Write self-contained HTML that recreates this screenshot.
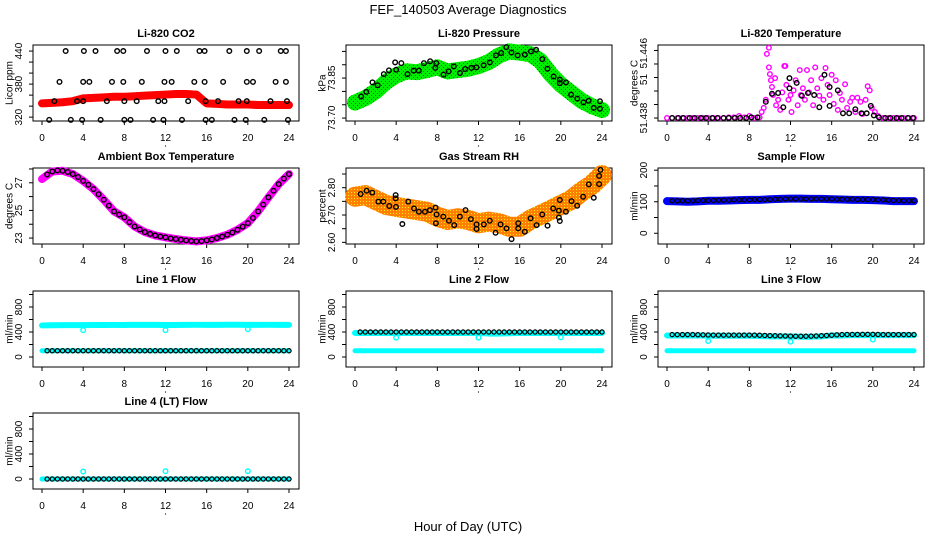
<!DOCTYPE html>
<html><head><meta charset="utf-8"><style>
html,body{margin:0;padding:0;background:#fff;}
svg{display:block;font-family:"Liberation Sans",sans-serif;}
</style></head><body>
<svg id="chart" width="936" height="540" viewBox="0 0 936 540" xmlns="http://www.w3.org/2000/svg">
<defs>
<pattern id="greenPat" width="4" height="4" patternUnits="userSpaceOnUse"><rect width="4" height="4" fill="#00ee00"/><rect x="1" y="1" width="1" height="1" fill="#006600"/><rect x="3" y="3" width="1" height="1" fill="#006600"/></pattern>
<pattern id="rhPat" width="3" height="3" patternUnits="userSpaceOnUse"><rect width="3" height="3" fill="#ff8000"/><rect width="1" height="1" fill="#ffee00"/></pattern>
</defs>
<text x="468" y="14" text-anchor="middle" font-size="13">FEF_140503  Average Diagnostics</text>
<text x="468" y="531" text-anchor="middle" font-size="13">Hour of Day (UTC)</text>
</svg>
<script>
// ---------- data ----------
const xTicks=[0,4,8,12,16,20,24];
const hourly=[0,1,2,3,4,5,6,7,8,9,10,11,12,13,14,15,16,17,18,19,20,21,22,23,24];
const halfHours=[0.5,1,1.5,2,2.5,3,3.5,4,4.5,5,5.5,6,6.5,7,7.5,8,8.5,9,9.5,10,10.5,11,11.5,12,12.5,13,13.5,14,14.5,15,15.5,16,16.5,17,17.5,18,18.5,19,19.5,20,20.5,21,21.5,22,22.5,23,23.5,24];

const co2Red=[345,346,347,349,354,355,356,357,357,358,359,360,361,362,362,361,345,344,343,343,343,342,342,342,342];
const co2DotHours=[2.3,4.07,5.2,7.3,7.9,10.2,12.0,13.1,15.3,15.8,18.2,19.9,21.1,23.2,23.7,
 1.7,4.0,4.6,6.8,7.9,9.7,11.9,12.6,14.8,15.8,17.6,19.9,20.5,22.7,23.7,
 1.2,3.4,4.0,6.3,8.0,9.2,11.3,11.9,14.2,15.9,17.1,19.1,19.9,22.2,23.8,
 0.7,2.8,3.9,5.7,8.0,8.6,10.8,11.8,13.6,15.9,16.5,18.7,19.8,21.6,23.9];
const co2DotVals=[440,440,440,440,440,440,440,440,440,440,440,440,440,440,440,
 384,384,384,384,384,384,384,384,384,384,384,384,384,384,384,
 349,349,349,349,349,349,349,349,349,349,349,349,349,349,349,
 315,315,315,315,315,315,315,315,315,315,315,315,315,315,315];

const pressBand=[73.758,73.775,73.80,73.835,73.86,73.875,73.872,73.88,73.89,73.875,73.88,73.885,73.895,73.91,73.935,73.95,73.945,73.94,73.915,73.865,73.825,73.795,73.765,73.745,73.73];
const pressDotHours=[0.6,1.1,1.7,2.2,2.8,3.3,3.9,4.0,4.5,5.1,5.7,6.2,6.7,7.3,7.8,7.9,8.6,9.1,9.6,10.2,10.7,11.3,11.8,12.5,13.1,13.7,14.2,14.7,15.2,15.8,16.5,17.1,17.6,18.2,18.7,19.3,19.9,19.9,20.5,21.0,21.6,22.2,22.7,23.2,23.8,23.8];
const pressDotVals=[73.781,73.798,73.834,73.823,73.865,73.879,73.909,73.881,73.906,73.865,73.878,73.878,73.906,73.913,73.888,73.906,73.863,73.875,73.894,73.869,73.884,73.888,73.89,73.898,73.909,73.935,73.944,73.966,73.946,73.935,73.938,73.95,73.956,73.921,73.885,73.856,73.844,73.831,73.834,73.788,73.773,73.759,73.765,73.738,73.763,73.735];

const tempMagHours=[0,0.5,1,1.5,2,2.5,3,3.5,4,4.5,5,5.5,6,6.5,7,7.5,8,8.5,9,
 9.2,9.4,9.6,9.7,9.9,9.9,10.0,10.1,10.2,10.3,10.5,10.6,10.8,11.0,11.2,11.4,11.5,11.6,11.8,12.0,12.1,12.3,12.5,12.7,12.9,13.0,13.2,13.4,13.6,13.8,14.0,14.2,14.4,14.6,14.8,15.0,15.2,15.4,15.6,15.8,16.0,16.2,16.4,16.6,16.8,17.0,17.3,17.5,17.8,18.0,18.3,18.5,18.8,19.0,19.3,19.5,19.7,19.9,20.2,20.5,21,21.5,22,22.5,23,23.5,24];
const tempMagVals=[51.4380,51.4380,51.4380,51.4380,51.4380,51.4380,51.4380,51.4380,51.4380,51.4380,51.4380,51.4380,51.4381,51.4381,51.4383,51.4381,51.4383,51.4380,51.4381,
 51.4389,51.4395,51.4407,51.4475,51.4484,51.4455,51.4445,51.4436,51.4426,51.4414,51.4439,51.4399,51.4407,51.4392,51.4418,51.4457,51.4457,51.4429,51.4407,51.4414,51.4389,51.4421,51.4436,51.4399,51.4451,51.4414,51.4424,51.4407,51.4451,51.4418,51.4436,51.4399,51.4455,51.4424,51.4413,51.4439,51.4407,51.4454,51.4429,51.4414,51.4444,51.4401,51.4436,51.4392,51.4417,51.4407,51.4430,51.4395,51.4404,51.4410,51.4389,51.4410,51.4404,51.4386,51.4407,51.4427,51.4421,51.4395,51.4389,51.4383,51.4380,51.4380,51.4380,51.4380,51.4380,51.4380,51.4380];
const tempDotHours=[0.5,1.1,1.6,2.2,2.7,3.3,3.8,4.4,4.9,5.5,6.0,6.6,7.1,7.7,8.2,8.8,9.6,10.2,10.8,11.3,11.9,11.9,12.6,13.1,13.7,14.3,14.8,15.3,15.8,15.8,16.6,17.1,17.7,18.3,18.9,19.4,19.8,20.1,20.6,21.2,21.7,22.3,22.8,23.4,23.9];
const tempDotVals=[51.4380,51.4380,51.4380,51.4380,51.4380,51.4380,51.4380,51.4380,51.4380,51.4380,51.4380,51.4380,51.4380,51.4380,51.4381,51.4381,51.4404,51.4416,51.4417,51.4396,51.4439,51.4424,51.4432,51.4413,51.4417,51.4414,51.4396,51.4444,51.4426,51.4398,51.4421,51.4387,51.4387,51.4393,51.4387,51.4387,51.4398,51.4384,51.4381,51.4380,51.4380,51.4380,51.4380,51.4380,51.4380];

const ambBand=[27.27,27.82,27.87,27.63,27.14,26.54,25.77,24.93,24.5,23.84,23.43,23.19,23.05,22.93,22.83,22.76,22.83,23.0,23.24,23.6,24.08,24.93,25.94,26.9,27.63];
const ambDots=[27.6,27.82,27.9,27.87,27.78,27.63,27.42,27.14,26.86,26.54,26.17,25.77,25.35,24.93,24.7,24.5,24.15,23.84,23.62,23.43,23.3,23.19,23.11,23.05,22.98,22.93,22.88,22.83,22.79,22.76,22.78,22.83,22.9,23.0,23.1,23.24,23.4,23.6,23.83,24.08,24.45,24.93,25.42,25.94,26.42,26.9,27.3,27.63];

const rhBand=[2.767,2.773,2.755,2.737,2.73,2.724,2.718,2.712,2.694,2.682,2.688,2.682,2.67,2.676,2.67,2.657,2.657,2.682,2.70,2.718,2.737,2.755,2.785,2.81,2.846];
const rhDotHours=[0.55,1.13,1.68,2.27,2.75,3.33,3.95,3.95,3.98,4.6,5.18,5.73,6.21,6.8,7.28,7.83,7.93,7.86,8.58,9.13,9.64,10.19,10.74,11.26,11.81,11.81,12.52,13.1,13.66,14.14,14.72,15.21,15.86,15.86,16.5,17.06,17.64,18.19,18.71,19.26,19.81,19.81,19.9,19.9,20.49,21.04,21.59,22.17,22.72,23.2,23.72,23.72,23.85];
const rhDotVals=[2.777,2.789,2.782,2.749,2.749,2.733,2.773,2.761,2.730,2.667,2.749,2.724,2.712,2.712,2.718,2.727,2.702,2.670,2.694,2.679,2.663,2.694,2.718,2.685,2.666,2.649,2.666,2.679,2.635,2.666,2.651,2.612,2.670,2.651,2.639,2.688,2.663,2.702,2.661,2.724,2.716,2.691,2.678,2.755,2.712,2.751,2.734,2.767,2.812,2.763,2.813,2.843,2.865];

const sampleBand=[102,101,100,101,103,103,104,105,106,106,108,109,110,110,109,109,108,107,106,106,105,104,102,102,102];
const sampleDots=[103,103,103,103,103,104,104,104,104,105,105,105,106,106,106,106,107,107,107,107,108,108,109,109,109,109,109,109,109,109,109,109,108,108,108,108,107,107,107,107,106,106,105,104,104,103,103,103];

const line1Upper=[505,508,510,510,510,512,512,513,513,514,514,514,512,512,514,515,515,515,516,516,514,514,515,515,515];
const line1Lower=[100,100,100,100,100,100,100,100,100,100,100,100,100,100,100,100,100,100,100,100,100,100,100,100,100];
const line1Black=[100,100,100,100,100,100,100,100,100,100,100,100,100,100,100,100,100,100,100,100,100,100,100,100,100,100,100,100,100,100,100,100,100,100,100,100,100,100,100,100,100,100,100,100,100,100,100,100];
const line2Upper=[385,385,385,385,385,385,385,385,385,385,385,385,385,375,375,380,385,385,385,385,385,385,385,385,385];
const line2Lower=[100,100,100,100,100,100,100,100,100,100,100,100,100,100,100,100,100,100,100,100,100,100,100,100,100];
const line2Black=[400,400,400,400,400,400,400,400,400,400,400,400,400,400,400,400,400,400,400,400,400,400,400,400,400,400,400,400,400,400,400,400,400,400,400,400,400,400,400,400,400,400,400,400,400,400,400,400];
const line3Upper=[345,345,345,345,340,340,340,340,340,335,330,330,330,325,325,330,345,345,350,350,350,350,350,350,350];
const line3Lower=[100,100,100,100,100,100,100,100,100,100,100,100,100,100,100,100,100,100,100,100,100,100,100,100,100];
const line3Black=[358,358,358,358,358,356,354,352,350,350,350,350,350,350,350,350,350,348,345,342,340,338,336,335,332,332,332,334,336,340,344,348,355,358,360,360,360,362,362,362,360,358,358,358,358,358,358,358];
const line4Band=[0,0,0,0,0,0,0,0,0,0,0,0,0,0,0,0,0,0,0,0,0,0,0,0,0];
const line4Black=[0,0,0,0,0,0,0,0,0,0,0,0,0,0,0,0,0,0,0,0,0,0,0,0,0,0,0,0,0,0,0,0,0,0,0,0,0,0,0,0,0,0,0,0,0,0,0,0];
const spikeHours=[4,12,20];
const line1Spikes=[430,430,445];
const line2Spikes=[310,310,315];
const line3Spikes=[255,245,280];
const line4Spikes=[120,125,125];

const co2Ticks=[320,340,360,380,400,420,440], co2Labels=["320","","","380","","","440"];
const pressTicks=[73.70,73.75,73.80,73.85,73.90,73.95], pressLabels=["73.70","","","73.85","",""];
const tempTicks=[51.438,51.440,51.442,51.444,51.446,51.448], tempLabels=["51.438","","","","",""];
const tempExtraLabelVals=[51.4437,51.4476], tempExtraLabels=["51","51.446"];
const ambTicks=[23,24,25,26,27,28], ambLabels=["23","","25","","27",""];
const rhTicks=[2.60,2.65,2.70,2.75,2.80,2.85], rhLabels=["2.60","","2.70","","2.80",""];
const sampleTicks=[0,50,100,150,200], sampleLabels=["0","","100","","200"];
const flowTicks=[0,200,400,600,800,1000], flowLabels=["0","","400","","800",""];

// ---------- drawing ----------
const NS="http://www.w3.org/2000/svg";
const svg=document.getElementById('chart');
const colLeft=[33,346,658], rowTop=[45,168,291,413], W=266, H=76;
function mk(tag,parent){const e=document.createElementNS(NS,tag);parent.appendChild(e);return e;}

function yLabel(parent,L,y,txt){
  const tl=mk('text',parent);tl.textContent=txt;
  tl.setAttribute('transform','translate('+(L-11)+','+y+') rotate(-90)');
  tl.setAttribute('text-anchor','middle');tl.setAttribute('font-size','10');
  
  
}

function panel(col,row,name,title,ylab,ymin,ymax,ticks,labels){
  const L=colLeft[col],T=rowTop[row],B=T+H;
  const g=mk('g',svg);
  
  
  const sx=h=>L+9+h/24*247;
  const sy=v=>B-(v-ymin)/(ymax-ymin)*H;
  const box=mk('rect',g);
  box.setAttribute('x',L);box.setAttribute('y',T);box.setAttribute('width',W);box.setAttribute('height',H);
  box.setAttribute('fill','none');box.setAttribute('stroke','#000');box.setAttribute('stroke-width','1');
  
  
  const t=mk('text',g);t.textContent=title;
  t.setAttribute('x',L+W/2);t.setAttribute('y',T-8);t.setAttribute('text-anchor','middle');
  t.setAttribute('font-size','11');t.setAttribute('font-weight','bold');
  
  
  const yl=mk('text',g);yl.textContent=ylab;
  yl.setAttribute('transform','translate('+(L-23)+','+(T+H/2)+') rotate(-90)');
  yl.setAttribute('text-anchor','middle');yl.setAttribute('dominant-baseline','central');yl.setAttribute('font-size','10');
  
  
  const xa=mk('g',g);
  
  
  const xl=mk('line',xa);xl.setAttribute('x1',sx(0));xl.setAttribute('x2',sx(24));xl.setAttribute('y1',B);xl.setAttribute('y2',B);xl.setAttribute('stroke','#000');
  xTicks.forEach(h=>{
    const tk=mk('line',xa);tk.setAttribute('x1',sx(h));tk.setAttribute('x2',sx(h));tk.setAttribute('y1',B);tk.setAttribute('y2',B+4);tk.setAttribute('stroke','#000');
    
    
    const tl=mk('text',xa);tl.textContent=String(h);tl.setAttribute('x',sx(h));tl.setAttribute('y',B+20);tl.setAttribute('text-anchor','middle');tl.setAttribute('font-size','10');
    
    
  });
  const dot=mk('circle',xa);dot.setAttribute('cx',sx(12));dot.setAttribute('cy',B+25);dot.setAttribute('r','0.6');dot.setAttribute('fill','#000');
  
  
  const ya=mk('g',g);
  
  
  const yln=mk('line',ya);yln.setAttribute('x1',L);yln.setAttribute('x2',L);yln.setAttribute('y1',sy(ticks[0]));yln.setAttribute('y2',sy(ticks[ticks.length-1]));yln.setAttribute('stroke','#000');
  ticks.forEach((v,i)=>{
    const tk=mk('line',ya);tk.setAttribute('x1',L-4);tk.setAttribute('x2',L);tk.setAttribute('y1',sy(v));tk.setAttribute('y2',sy(v));tk.setAttribute('stroke','#000');
    
    
    if(labels[i]) yLabel(ya,L,sy(v),labels[i]);
  });
  const data=mk('g',g);
  
  
  return {sx,sy,g:data,ya,L};
}
function band(p,hs,vs,stroke,width,name){
  const pl=mk('polyline',p.g);
  pl.setAttribute('points',hs.map((h,i)=>p.sx(h)+','+p.sy(vs[i])).join(' '));
  pl.setAttribute('fill','none');pl.setAttribute('stroke',stroke);pl.setAttribute('stroke-width',width);
  pl.setAttribute('stroke-linejoin','round');pl.setAttribute('stroke-linecap','round');
  
  
}
function pts(p,hs,vs,color,name,r,sw){
  hs.forEach((h,i)=>{
    const c=mk('circle',p.g);
    c.setAttribute('cx',p.sx(h));c.setAttribute('cy',p.sy(vs[i]));c.setAttribute('r',r||2.3);
    c.setAttribute('fill','none');c.setAttribute('stroke',color);c.setAttribute('stroke-width',sw||1.4);
    
    
  });
}

let p;
p=panel(0,0,'co2','Li-820 CO2','Licor ppm',313,451,co2Ticks,co2Labels);
band(p,hourly,co2Red,'#ff0000',8,'co2-red-band');
pts(p,co2DotHours,co2DotVals,'#000','co2-point');

p=panel(1,0,'pressure','Li-820 Pressure','kPa',73.689,73.974,pressTicks,pressLabels);
band(p,hourly,pressBand,'url(#greenPat)',16,'pressure-green-band');
pts(p,pressDotHours,pressDotVals,'#000','pressure-point');

p=panel(2,0,'li820-temp','Li-820 Temperature','degrees C',51.43756,51.44881,tempTicks,tempLabels);
tempExtraLabelVals.forEach((v,i)=>yLabel(p.ya,p.L,p.sy(v),tempExtraLabels[i]));
pts(p,tempMagHours,tempMagVals,'#ff00ff','li820-temp-magenta-point');
pts(p,tempDotHours,tempDotVals,'#000','li820-temp-point');

p=panel(0,1,'ambient','Ambient Box Temperature','degrees C',22.57,28.07,ambTicks,ambLabels);
band(p,hourly,ambBand,'#ff00ff',8,'ambient-magenta-band');
pts(p,halfHours,ambDots,'#000','ambient-point');

p=panel(1,1,'rh','Gas Stream RH','percent',2.594,2.872,rhTicks,rhLabels);
band(p,hourly,rhBand,'url(#rhPat)',20,'rh-orange-band');
pts(p,rhDotHours,rhDotVals,'#000','rh-point');

p=panel(2,1,'sample-flow','Sample Flow','ml/min',-34,207,sampleTicks,sampleLabels);
band(p,hourly,sampleBand,'#0000ff',8,'sample-flow-blue-band');
pts(p,halfHours,sampleDots,'#000','sample-flow-point',2.1,1.2);

p=panel(0,2,'line1','Line 1 Flow','ml/min',-160,1056,flowTicks,flowLabels);
band(p,hourly,line1Upper,'#00ffff',6,'line1-cyan-upper');
band(p,hourly,line1Lower,'#00ffff',5,'line1-cyan-lower');
pts(p,spikeHours,line1Spikes,'#00ffff','line1-cyan-point');
pts(p,halfHours,line1Black,'#000','line1-point',2.1,1.2);

p=panel(1,2,'line2','Line 2 Flow','ml/min',-160,1056,flowTicks,flowLabels);
band(p,hourly,line2Upper,'#00ffff',6,'line2-cyan-upper');
band(p,hourly,line2Lower,'#00ffff',5,'line2-cyan-lower');
pts(p,spikeHours,line2Spikes,'#00ffff','line2-cyan-point');
pts(p,halfHours,line2Black,'#000','line2-point',2.1,1.2);

p=panel(2,2,'line3','Line 3 Flow','ml/min',-160,1056,flowTicks,flowLabels);
band(p,hourly,line3Upper,'#00ffff',6,'line3-cyan-upper');
band(p,hourly,line3Lower,'#00ffff',5,'line3-cyan-lower');
pts(p,spikeHours,line3Spikes,'#00ffff','line3-cyan-point');
pts(p,halfHours,line3Black,'#000','line3-point',2.1,1.2);

p=panel(0,3,'line4','Line 4 (LT) Flow','ml/min',-160,1056,flowTicks,flowLabels);
band(p,hourly,line4Band,'#00ffff',5,'line4-cyan-band');
pts(p,spikeHours,line4Spikes,'#00ffff','line4-cyan-point');
pts(p,halfHours,line4Black,'#000','line4-point',2.1,1.2);
</script>
</body></html>
